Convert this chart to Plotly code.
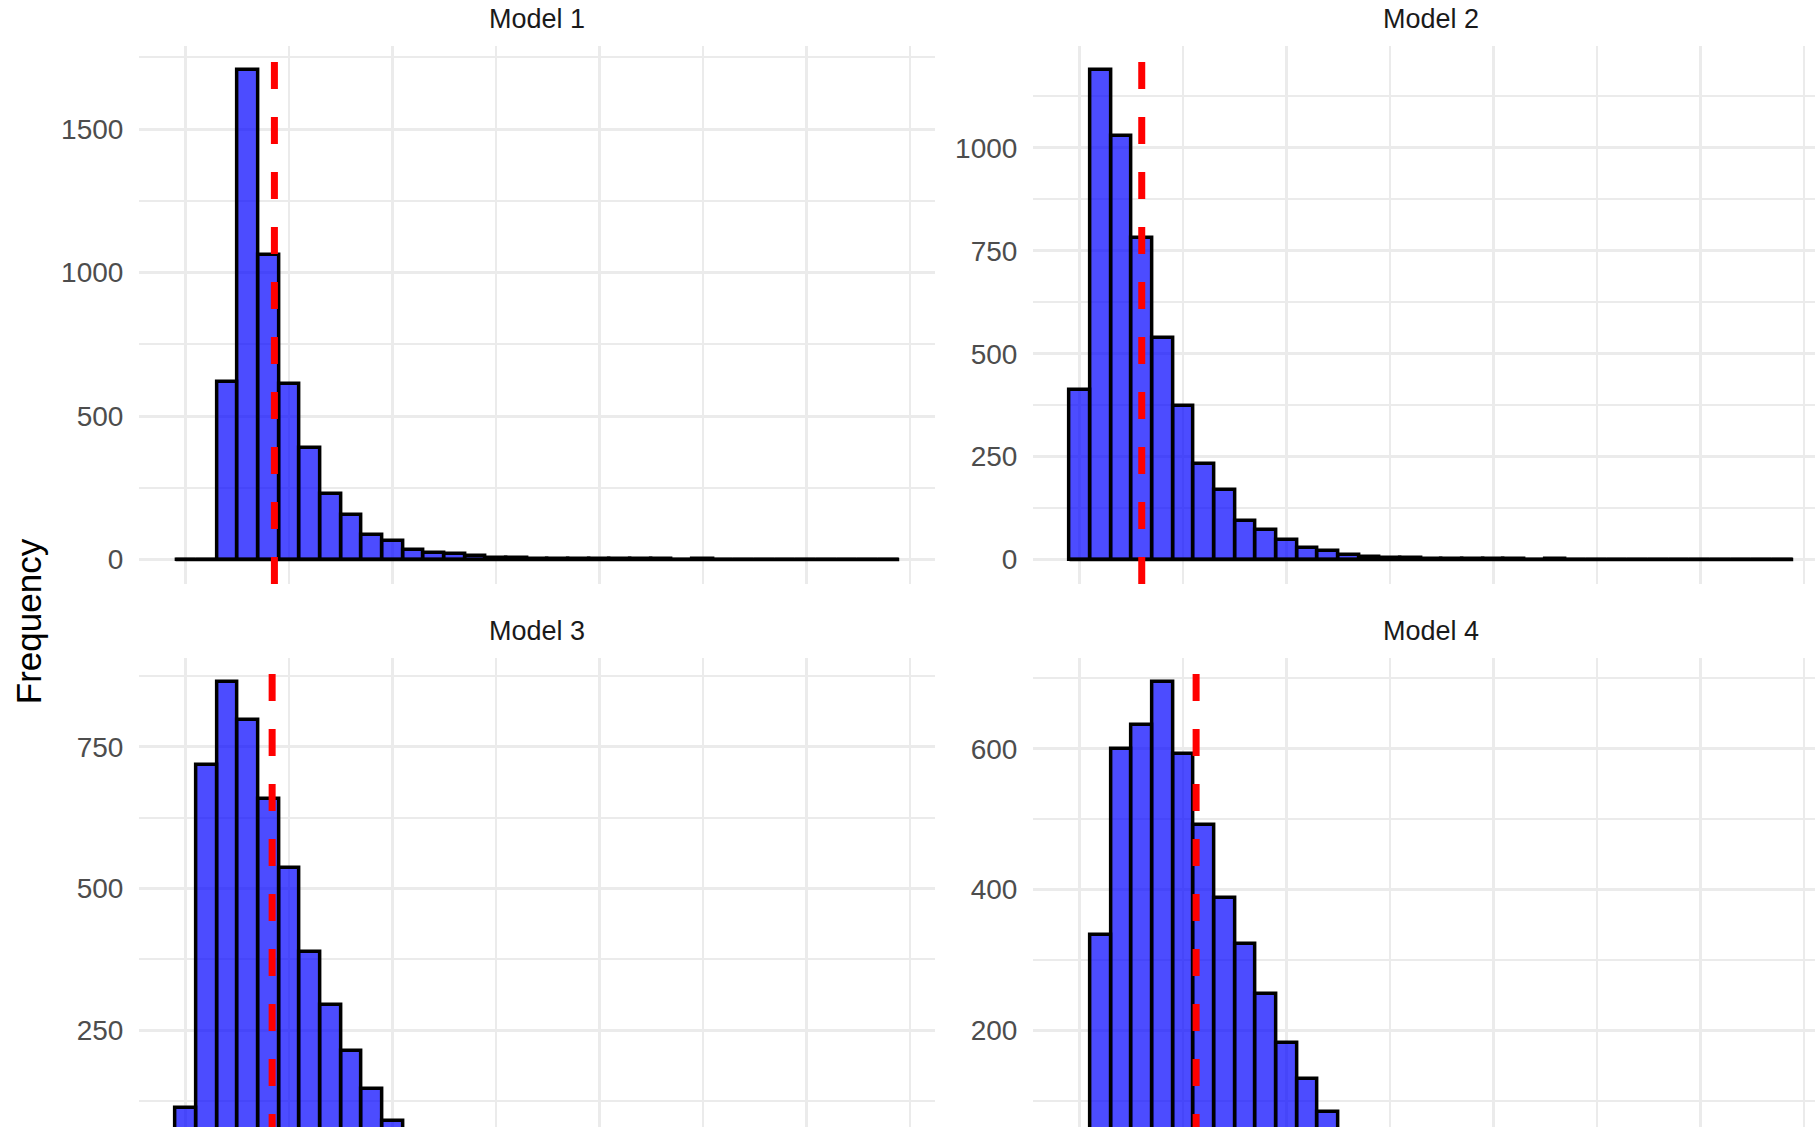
import plotly.graph_objects as go

# ---------------- data ----------------
models = ["Model 1", "Model 2", "Model 3", "Model 4"]
bin_width = 1.0
bin_centers = [float(i) for i in range(35)]

counts_m1 = [0, 0, 620, 1704, 1060, 611, 390, 230, 156, 85, 64, 35, 24, 20, 11, 7, 4, 3, 2, 2,
             1, 2, 1, 1, 0, 1, 0, 0, 0, 0, 0, 0, 0, 0, 0]
counts_m2 = [413, 1188, 1028, 782, 539, 372, 233, 169, 94, 72, 47, 29, 20, 12, 7, 4, 3, 2, 1, 2,
             1, 1, 0, 1, 0, 0, 0, 0, 0, 0, 0, 0, 0, 0, 0]
counts_m3 = [113, 719, 864, 798, 659, 536, 387, 294, 213, 145, 89, 55, 33, 20, 12, 7, 4, 3, 2, 1,
             1, 0, 1, 0, 0, 0, 0, 0, 0, 0, 0, 0, 0, 0, 0]
counts_m4 = [0, 336, 600, 634, 694, 592, 492, 388, 323, 252, 182, 132, 85, 55, 35, 22, 13, 8, 5, 3,
             2, 1, 1, 0, 0, 0, 0, 0, 0, 0, 0, 0, 0, 0, 0]
all_counts = [counts_m1, counts_m2, counts_m3, counts_m4]

model_means = [4.28, 2.99, 4.17, 5.62]
y_major_dtick = [500, 250, 250, 200]

y_title = "Frequency"

# ---------------- layout geometry (pixels) ----------------
FIG_W, FIG_H = 1815, 1127
COL_LEFT = [139.4, 1033.4]
PANEL_W = 796.0
ROW_TOP = [46.0, 658.0]
PANEL_H = 538.0

FONT = "Liberation Sans, Arial, Helvetica, sans-serif"
GRID = "#EBEBEB"

fig = go.Figure()

edge_lo = bin_centers[0] - bin_width / 2
edge_hi = bin_centers[-1] + bin_width / 2
span = edge_hi - edge_lo
x_lo = edge_lo - 0.05 * span
x_hi = edge_hi + 0.05 * span

layout_axes = {}
shapes = []
annotations = []

for i, (name, counts, mean, dt) in enumerate(zip(models, all_counts, model_means, y_major_dtick)):
    row, col = divmod(i, 2)
    ax = i + 1
    xa = "x" if ax == 1 else f"x{ax}"
    ya = "y" if ax == 1 else f"y{ax}"

    # domains (clipped to window)
    left_px = COL_LEFT[col]
    right_px = min(left_px + PANEL_W, FIG_W)
    top_px = ROW_TOP[row]
    bot_px = min(top_px + PANEL_H, FIG_H)
    xdom = [left_px / FIG_W, right_px / FIG_W]
    ydom = [1 - bot_px / FIG_H, 1 - top_px / FIG_H]

    # ranges (ggplot 5% expansion, then clipped to visible part)
    frac_x = (right_px - left_px) / PANEL_W
    xr = [x_lo, x_lo + (x_hi - x_lo) * frac_x]
    M = max(counts)
    y_full_lo, y_full_hi = -0.05 * M, 1.05 * M
    frac_y = (bot_px - top_px) / PANEL_H
    yr = [y_full_hi - (y_full_hi - y_full_lo) * frac_y, y_full_hi]

    # baseline for empty bins (ggplot draws zero-height outlines)
    fig.add_trace(go.Scatter(
        x=[edge_lo, edge_hi], y=[0, 0], mode="lines",
        line=dict(color="black", width=3.5),
        xaxis=xa, yaxis=ya, showlegend=False, hoverinfo="skip"))
    fig.add_trace(go.Bar(
        x=bin_centers, y=counts, width=bin_width,
        marker=dict(color="rgba(0,0,255,0.7)", line=dict(color="black", width=3.5)),
        xaxis=xa, yaxis=ya, showlegend=False, name=name))

    layout_axes[("xaxis" if ax == 1 else f"xaxis{ax}")] = dict(
        domain=xdom, range=xr, anchor=ya,
        showticklabels=False, ticks="", showline=False, zeroline=False,
        tickmode="linear", tick0=0, dtick=10,
        showgrid=True, gridcolor=GRID, gridwidth=3,
        minor=dict(tickmode="linear", tick0=0, dtick=5, showgrid=True,
                   gridcolor=GRID, gridwidth=1.6, ticks=""),
    )
    layout_axes[("yaxis" if ax == 1 else f"yaxis{ax}")] = dict(
        domain=ydom, range=yr, anchor=xa,
        ticks="", showline=False, zeroline=False,
        tickmode="linear", tick0=0, dtick=dt,
        showgrid=True, gridcolor=GRID, gridwidth=3,
        minor=dict(tickmode="linear", tick0=0, dtick=dt / 2, showgrid=True,
                   gridcolor=GRID, gridwidth=1.6, ticks=""),
        tickfont=dict(family=FONT, size=28, color="#4D4D4D"),
        ticklabelstandoff=15,
    )

    # mean line (dashed red), drawn bottom -> top over the full ggplot panel
    shapes.append(dict(
        type="line", xref=xa, yref=ya,
        x0=mean, x1=mean, y0=y_full_lo, y1=y_full_hi,
        line=dict(color="#FF0000", width=7, dash="27px,28px"),
        layer="above"))

    # strip title
    annotations.append(dict(
        text=name, xref="paper", yref="paper",
        x=(left_px + PANEL_W / 2) / FIG_W, y=1 - (top_px - 27.5) / FIG_H,
        xanchor="center", yanchor="middle", showarrow=False,
        font=dict(family=FONT, size=27, color="#1A1A1A")))

annotations.append(dict(
    text=y_title, xref="paper", yref="paper",
    x=29.2 / FIG_W, y=1 - 621 / FIG_H, textangle=-90,
    xanchor="center", yanchor="middle", showarrow=False,
    font=dict(family=FONT, size=35, color="black")))

fig.update_layout(
    width=FIG_W, height=FIG_H,
    margin=dict(l=0, r=0, t=0, b=0),
    paper_bgcolor="white", plot_bgcolor="white",
    bargap=0, showlegend=False,
    shapes=shapes, annotations=annotations,
    **layout_axes,
)

fig.write_html("out.html")
